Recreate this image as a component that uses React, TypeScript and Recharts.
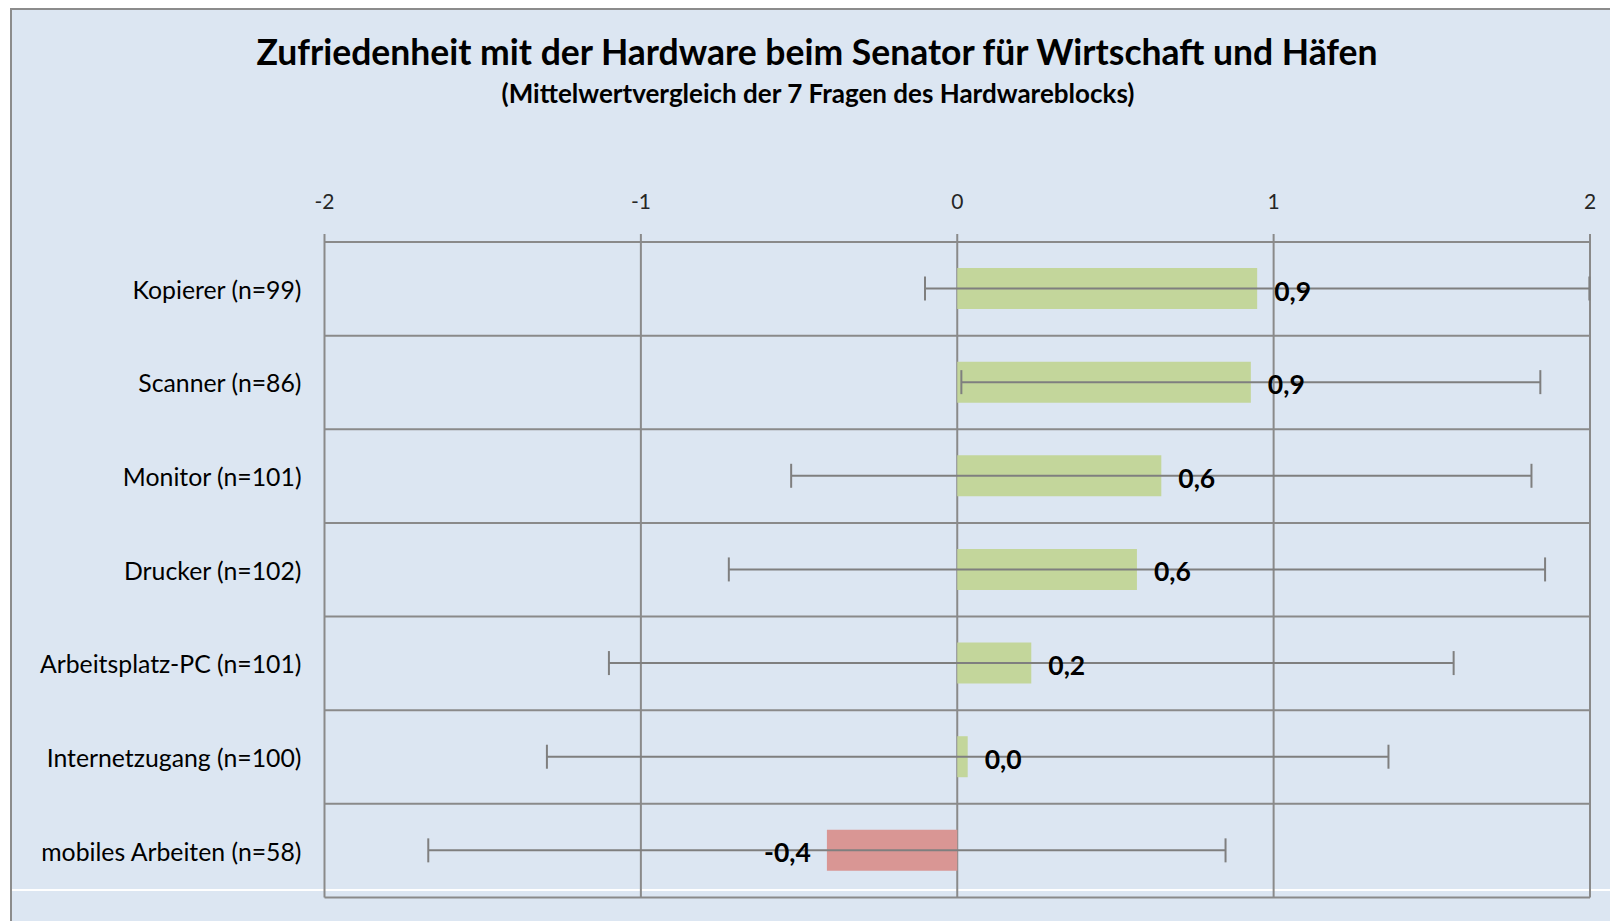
import React from 'react';
import { BarChart, Bar, XAxis, YAxis, CartesianGrid, ErrorBar, Cell, LabelList } from 'recharts';

const categories = [
  'Kopierer (n=99)',
  'Scanner (n=86)',
  'Monitor (n=101)',
  'Drucker (n=102)',
  'Arbeitsplatz-PC (n=101)',
  'Internetzugang (n=100)',
  'mobiles Arbeiten (n=58)',
];
const means = [0.948, 0.928, 0.645, 0.568, 0.234, 0.033, -0.412];
const deviations = [1.05, 0.915, 1.17, 1.29, 1.335, 1.33, 1.26];
const xTicks = [-2, -1, 0, 1, 2];

const title = 'Zufriedenheit mit der Hardware beim Senator für Wirtschaft und Häfen';
const subtitle = '(Mittelwertvergleich der 7 Fragen des Hardwareblocks)';

const data = categories.map((name, i) => ({ name, value: means[i], err: deviations[i] }));

const FONT = 'Lato, "Open Sans", sans-serif';
const GRID = '#8a8a8a';

const CategoryTick = (props: any) => {
  const { x, y, payload } = props;
  return (
    <text x={x} y={y} dy={10} textAnchor="end" fontFamily={FONT} fontSize={24.8} fill="#000">
      {payload.value}
    </text>
  );
};

const ValueLabel = (props: any) => {
  const { x, y, width, height, value } = props;
  const x1 = Number(x);
  const x2 = Number(x) + Number(width);
  const lo = Math.min(x1, x2);
  const hi = Math.max(x1, x2);
  const cy = Number(y) + Number(height) / 2;
  const txt = Number(value).toFixed(1).replace('.', ',');
  const neg = Number(value) < 0;
  return (
    <text
      x={neg ? lo - 16 : hi + 17}
      y={cy}
      dy={12}
      textAnchor={neg ? 'end' : 'start'}
      fontFamily={FONT}
      fontWeight={700}
      fontSize={26.5}
      fill="#000"
    >
      {txt}
    </text>
  );
};

export default function App() {
  return (
    <div style={{ position: 'fixed', left: 0, top: 0, width: 1610, height: 921, background: '#fff', overflow: 'hidden' }}>
      <div
        style={{
          position: 'absolute',
          left: 10,
          top: 8,
          width: 1640,
          height: 940,
          background: '#DCE6F2',
          borderLeft: '2px solid #8c8c8c',
          borderTop: '2px solid #8c8c8c',
        }}
      />
      <div style={{ position: 'absolute', left: 12, top: 889, width: 1600, height: 2, background: '#fff' }} />
      <div style={{ position: 'absolute', left: 0, top: 0 }}>
        <BarChart
          width={1610}
          height={921}
          data={data}
          layout="vertical"
          margin={{ top: 202, right: 20, bottom: 23.5, left: 24.5 }}
          barCategoryGap={0}
        >
          <CartesianGrid
            stroke={GRID}
            strokeWidth={2}
            fill="none"
            horizontalCoordinatesGenerator={({ offset }: any) =>
              Array.from({ length: categories.length + 1 }, (_, i) => offset.top + (i * offset.height) / categories.length)
            }
          />
          <XAxis
            type="number"
            orientation="top"
            domain={[-2, 2]}
            ticks={xTicks}
            allowDataOverflow
            height={40}
            axisLine={false}
            tickLine={{ stroke: GRID, strokeWidth: 2 }}
            tickSize={8}
            tickMargin={25}
            tick={{ fontFamily: FONT, fontSize: 21, fill: '#262626' }}
          />
          <YAxis
            type="category"
            dataKey="name"
            width={300}
            axisLine={false}
            tickLine={false}
            tickSize={0}
            tickMargin={23}
            tick={<CategoryTick />}
            interval={0}
          />
          <Bar dataKey="value" barSize={41} isAnimationActive={false}>
            {data.map((d, i) => (
              <Cell key={i} fill={d.value < 0 ? '#D99694' : '#C3D69B'} />
            ))}
            <ErrorBar dataKey="err" direction="x" width={12} strokeWidth={2} stroke="#7f7f7f" />
            <LabelList dataKey="value" content={<ValueLabel />} />
          </Bar>
        </BarChart>
      </div>
      <svg style={{ position: 'absolute', left: 0, top: 0, pointerEvents: 'none' }} width={1610} height={921}>
        <text x={817} y={65} textAnchor="middle" fontFamily={FONT} fontWeight={700} fontSize={35.5} fill="#000">
          {title}
        </text>
        <text x={818} y={103} textAnchor="middle" fontFamily={FONT} fontWeight={700} fontSize={26} fill="#000">
          {subtitle}
        </text>
      </svg>
    </div>
  );
}
